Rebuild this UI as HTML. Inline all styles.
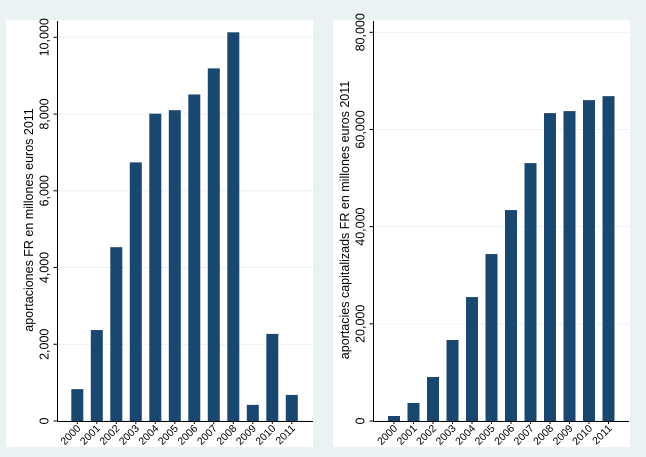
<!DOCTYPE html>
<html><head><meta charset="utf-8"><style>
body{margin:0;background:#eaf2f3;font-family:"Liberation Sans",sans-serif}
svg{display:block}
</style></head><body>
<svg id="c" width="646" height="457">
<rect x="0" y="0" width="646" height="457" fill="#eaf2f3"/>
<rect x="6" y="20" width="307" height="427" fill="#fff"/>
<rect x="333" y="20" width="297" height="427" fill="#fff"/>
</svg>
<script>
const years=["2000","2001","2002","2003","2004","2005","2006","2007","2008","2009","2010","2011"];
const aportaciones=[830,2370,4530,6740,8010,8100,8510,9190,10130,420,2270,680];
const capitalizadas=[1030,3700,9050,16670,25510,34360,43410,53080,63370,63780,66040,66860];
const leftTicks=[0,2000,4000,6000,8000,10000];
const rightTicks=[0,20000,40000,60000,80000];
const svg=document.getElementById('c');
const NS='http://www.w3.org/2000/svg';
function mk(t,a){const e=document.createElementNS(NS,t);for(const k in a)e.setAttribute(k,a[k]);svg.appendChild(e);return e;}
function panel(p){
  const y=v=>p.y0-(v/p.vmax)*(p.y0-p.ytop);
  const x=i=>p.x0+i*p.step;
  p.ticks.forEach(t=>{
    const g=mk('line',{x1:p.ax,x2:p.right,y1:y(t),y2:y(t),stroke:'#eaf2f3','stroke-width':1});
    
    
    const tk=mk('line',{x1:p.ax-4,x2:p.ax,y1:y(t),y2:y(t),stroke:'#000'});
    
    
    const tx=mk('text',{x:0,y:0,transform:`translate(${p.ax-9},${y(t)}) rotate(-90)`,'text-anchor':'middle','font-size':12.5,fill:'#000'});
    tx.textContent=t.toLocaleString('en-US');
    
    
  });
  p.data.forEach((v,i)=>{
    const b=mk('rect',{x:x(i)-6,y:y(v),width:12,height:p.y0-y(v),fill:'#1a476f'});
    
    
    const tk=mk('line',{x1:x(i),x2:x(i),y1:p.y0,y2:p.y0+3,stroke:'#000'});
    
    
    const l=mk('text',{x:0,y:0,transform:`translate(${x(i)+4},${p.y0+8}) rotate(-45)`,'text-anchor':'end','font-size':10.5,fill:'#000'});
    l.textContent=years[i];
    
    
  });
  const a1=mk('line',{x1:p.ax,x2:p.ax,y1:p.axtop,y2:p.y0+0.5,stroke:'#000'});
  
  
  const a2=mk('line',{x1:p.ax,x2:p.right,y1:p.y0+0.5,y2:p.y0+0.5,stroke:'#000'});
  
  
  const t=mk('text',{x:0,y:0,transform:`translate(${p.tx},220) rotate(-90)`,'text-anchor':'middle','font-size':12.5,fill:'#000'});
  t.textContent=p.title;
  
  
}
panel({data:aportaciones,ticks:leftTicks,vmax:10000,y0:421,ytop:37.3,ax:57.5,axtop:21,right:313,x0:77.3,step:19.5,tx:33,title:'aportaciones FR en millones euros 2011'});
panel({data:capitalizadas,ticks:rightTicks,vmax:80000,y0:421,ytop:32.3,ax:373.5,axtop:21,right:629,x0:394,step:19.5,tx:349,title:'aportacies capitalizads FR en millones euros 2011'});
</script>
</body></html>
